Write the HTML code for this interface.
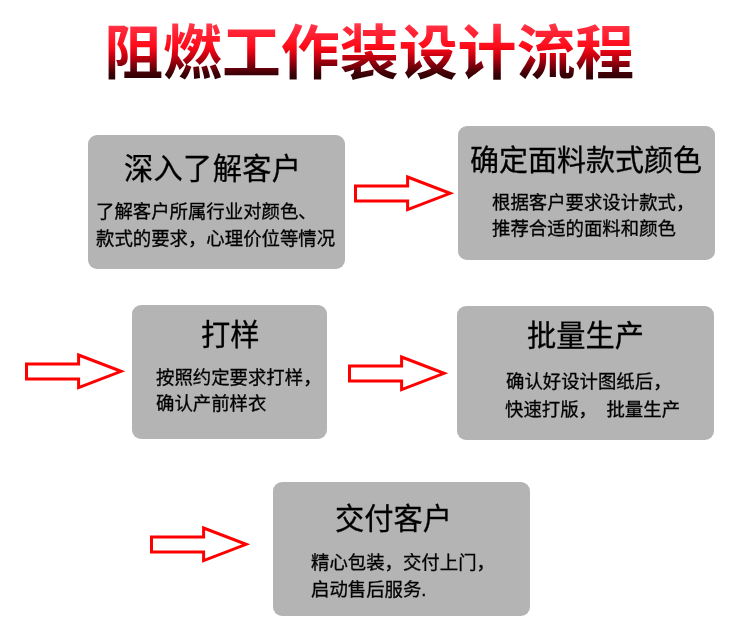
<!DOCTYPE html>
<html lang="zh-CN">
<head>
<meta charset="utf-8">
<title>阻燃工作装设计流程</title>
<style>
html,body{margin:0;padding:0;background:#fff;}
body{width:750px;height:643px;position:relative;overflow:hidden;
  font-family:"Liberation Sans","Noto Sans CJK SC",sans-serif;color:#000;}
.title{position:absolute;left:0;top:0;margin:0;padding:11px 0 0 104.2px;width:645px;height:99px;white-space:nowrap;
  font-size:58.9px;line-height:86px;font-weight:700;letter-spacing:0;
  background:linear-gradient(to bottom,#ff4252 22px,#ff2a3c 29px,#ff0a18 47px,#c40010 56.5px,#7c000c 65.5px,#3e0006 73.5px,#200003 82px);
  -webkit-background-clip:text;background-clip:text;color:transparent;-webkit-text-fill-color:transparent;filter:blur(.45px);}
.box{position:absolute;background:#b4b4b4;border-radius:9px;}
.h{position:absolute;margin:0;white-space:nowrap;font-weight:400;font-size:29.25px;line-height:40px;will-change:transform;-webkit-text-stroke:.3px #000;}
.p{position:absolute;margin:0;white-space:nowrap;font-weight:400;font-size:18.4px;line-height:28px;will-change:transform;-webkit-text-stroke:.3px #000;}
.arrow{position:absolute;width:104px;height:42px;overflow:visible;}
</style>
</head>
<body>
<h1 class="title">阻燃工作装设计流程</h1>

<div class="box" style="left:88px;top:135px;width:257px;height:134px;"></div>
<div class="box" style="left:458px;top:126px;width:257px;height:134px;"></div>
<div class="box" style="left:132px;top:305px;width:195px;height:134px;"></div>
<div class="box" style="left:457px;top:306px;width:257px;height:134px;"></div>
<div class="box" style="left:273px;top:482px;width:257px;height:134px;"></div>

<h2 class="h" style="left:124.4px;top:149px;letter-spacing:.3px;">深入了解客户</h2>
<p class="p" style="left:96.3px;top:197.5px;">了解客户所属行业对颜色、</p>
<p class="p" style="left:96.2px;top:224.7px;">款式的要求，心理价位等情况</p>

<h2 class="h" style="left:470.3px;top:140.7px;font-size:29px;">确定面料款式颜色</h2>
<p class="p" style="left:492.1px;top:189px;">根据客户要求设计款式，</p>
<p class="p" style="left:492.1px;top:214.8px;">推荐合适的面料和颜色</p>

<h2 class="h" style="left:200.5px;top:315.2px;">打样</h2>
<p class="p" style="left:156.4px;top:363.8px;">按照约定要求打样，</p>
<p class="p" style="left:156.4px;top:390.3px;">确认产前样衣</p>

<h2 class="h" style="left:526.8px;top:315.6px;">批量生产</h2>
<p class="p" style="left:505.7px;top:368.3px;">确认好设计图纸后，</p>
<p class="p" style="left:505.2px;top:396px;">快速打版，<span style="display:inline-block;width:9.5px"></span>批量生产</p>

<h2 class="h" style="left:335.2px;top:499px;">交付客户</h2>
<p class="p" style="left:310.5px;top:548.8px;">精心包装，交付上门，</p>
<p class="p" style="left:310.5px;top:575.8px;">启动售后服务.</p>

<svg class="arrow" style="left:352px;top:172px;" viewBox="0 0 104 42"><polygon points="3.5,14 55.6,14 55.6,5 98.1,21.3 55.6,37.6 55.6,29 3.5,29" fill="none" stroke="#ff0000" stroke-width="3" stroke-miterlimit="10"/></svg>
<svg class="arrow" style="left:23px;top:350px;" viewBox="0 0 104 42"><polygon points="3.5,14 55.6,14 55.6,5 98.1,21.3 55.6,37.6 55.6,29 3.5,29" fill="none" stroke="#ff0000" stroke-width="3" stroke-miterlimit="10"/></svg>
<svg class="arrow" style="left:346px;top:352px;" viewBox="0 0 104 42"><polygon points="3.5,14 55.6,14 55.6,5 98.1,21.3 55.6,37.6 55.6,29 3.5,29" fill="none" stroke="#ff0000" stroke-width="3" stroke-miterlimit="10"/></svg>
<svg class="arrow" style="left:148px;top:523px;" viewBox="0 0 104 42"><polygon points="3.5,14 55.6,14 55.6,5 98.1,21.3 55.6,37.6 55.6,29 3.5,29" fill="none" stroke="#ff0000" stroke-width="3" stroke-miterlimit="10"/></svg>
</body>
</html>
